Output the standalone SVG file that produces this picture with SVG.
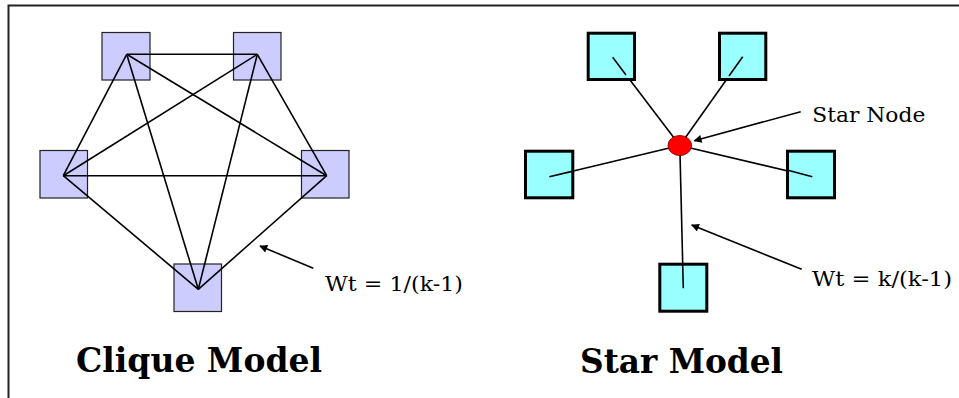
<svg xmlns="http://www.w3.org/2000/svg" width="959" height="398" viewBox="0 0 959 398">
<style>
.cq{fill:#CCCCFF;stroke:#222;stroke-width:1.2}
.st{fill:#99FFFF;stroke:#000;stroke-width:3}
.ln{stroke:#000;stroke-width:1.6;fill:none}
.lbl{font-family:"DejaVu Serif","Liberation Serif",serif;font-size:20px;fill:#000}
.ttl{font-family:"DejaVu Serif","Liberation Serif",serif;font-size:33px;font-weight:bold;fill:#000}
</style>
<defs>
<marker id="ah" viewBox="0 0 10 10" refX="9" refY="5" markerWidth="9" markerHeight="8" markerUnits="userSpaceOnUse" orient="auto">
<path d="M0,0 L10,5 L0,10 Z" fill="#000"/>
</marker>
</defs>
<rect x="8.5" y="5.5" width="960" height="400" fill="#fff" stroke="#222" stroke-width="2"/>
<g id="clique-nodes">
<g id="c1"><rect class="cq" x="102" y="32.5" width="48" height="47.5"/></g>
<g id="c2"><rect class="cq" x="233.5" y="32.5" width="47.5" height="47.5"/></g>
<g id="c3"><rect class="cq" x="40" y="150.5" width="47.5" height="47.5"/></g>
<g id="c4"><rect class="cq" x="301.5" y="150.5" width="47.5" height="47.5"/></g>
<g id="c5"><rect class="cq" x="174" y="264" width="47.5" height="47.5"/></g>
</g>
<g id="clique-connectors">
<line class="ln" x1="126.7" y1="54.3" x2="257.3" y2="54.3"/>
<line class="ln" x1="126.7" y1="54.3" x2="63.3" y2="175.7"/>
<line class="ln" x1="126.7" y1="54.3" x2="326.7" y2="175.7"/>
<line class="ln" x1="126.7" y1="54.3" x2="198.3" y2="289.3"/>
<line class="ln" x1="257.3" y1="54.3" x2="63.3" y2="175.7"/>
<line class="ln" x1="257.3" y1="54.3" x2="326.7" y2="175.7"/>
<line class="ln" x1="257.3" y1="54.3" x2="198.3" y2="289.3"/>
<line class="ln" x1="63.3" y1="175.7" x2="326.7" y2="175.7"/>
<line class="ln" x1="63.3" y1="175.7" x2="198.3" y2="289.3"/>
<line class="ln" x1="326.7" y1="175.7" x2="198.3" y2="289.3"/>
<line class="ln" x1="313.3" y1="268.3" x2="260" y2="246" marker-end="url(#ah)"/>
</g>
<text id="clique-wt" class="lbl" x="325" y="290.5" textLength="138" lengthAdjust="spacingAndGlyphs">Wt = 1/(k-1)</text>
<text id="clique-title" class="ttl" x="76" y="372" textLength="246" lengthAdjust="spacingAndGlyphs">Clique Model</text>
<g id="star-connectors">
<line class="ln" x1="679.8" y1="145.5" x2="612.7" y2="57.3"/>
<line class="ln" x1="679.8" y1="145.5" x2="742.7" y2="56.7"/>
<line class="ln" x1="679.8" y1="145.5" x2="549.3" y2="176.7"/>
<line class="ln" x1="679.8" y1="145.5" x2="812.3" y2="176.7"/>
<line class="ln" x1="679.8" y1="145.5" x2="683.3" y2="288.3"/>
<line class="ln" x1="800.7" y1="111.7" x2="694.3" y2="140.7" marker-end="url(#ah)"/>
<line class="ln" x1="801.7" y1="269.3" x2="691.7" y2="225" marker-end="url(#ah)"/>
</g>
<g id="star-nodes">
<g id="s1"><rect class="st" x="588.2" y="33.2" width="46.3" height="46.3"/><line class="ln" x1="612.7" y1="57.3" x2="626" y2="75"/></g>
<g id="s2"><rect class="st" x="719.5" y="33.2" width="46.3" height="46.3"/><line class="ln" x1="742.7" y1="56.7" x2="729" y2="76"/></g>
<g id="s3"><rect class="st" x="525.5" y="151.2" width="47.3" height="46.6"/><line class="ln" x1="549.3" y1="176.7" x2="572" y2="171.4"/></g>
<g id="s4"><rect class="st" x="787.5" y="151.2" width="47" height="46.6"/><line class="ln" x1="812.3" y1="176.7" x2="788" y2="170.3"/></g>
<g id="s5"><rect class="st" x="659.8" y="264.2" width="47" height="47"/><line class="ln" x1="683.3" y1="288.3" x2="682.7" y2="265"/></g>
<g id="star-node"><ellipse cx="679.8" cy="145.5" rx="11.8" ry="10" fill="#FF0000" stroke="#990000" stroke-width="1"/></g>
</g>
<text id="star-label" class="lbl" x="812.3" y="122.3" textLength="113" lengthAdjust="spacingAndGlyphs">Star Node</text>
<text id="star-wt" class="lbl" x="812" y="286" textLength="140" lengthAdjust="spacingAndGlyphs">Wt = k/(k-1)</text>
<text id="star-title" class="ttl" x="580" y="372.5" textLength="203" lengthAdjust="spacingAndGlyphs">Star Model</text>
</svg>
